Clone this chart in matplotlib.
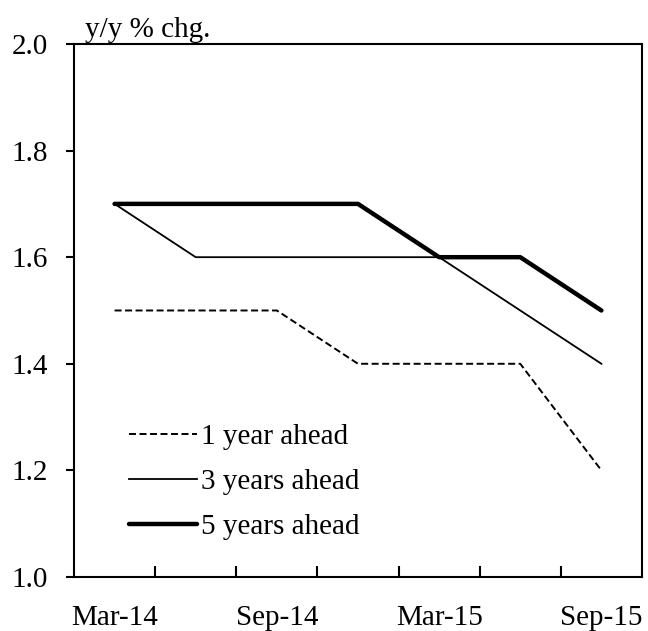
import matplotlib
matplotlib.use("Agg")
import matplotlib.pyplot as plt
import numpy as np

# survey quarters and firms' inflation outlook (y/y % chg.)
quarters = ["Mar-14", "Jun-14", "Sep-14", "Dec-14", "Mar-15", "Jun-15", "Sep-15"]
one_year = [1.5, 1.5, 1.5, 1.4, 1.4, 1.4, 1.2]
three_years = [1.7, 1.6, 1.6, 1.6, 1.6, 1.5, 1.4]
five_years = [1.7, 1.7, 1.7, 1.7, 1.6, 1.6, 1.5]
series_labels = ["1 year ahead", "3 years ahead", "5 years ahead"]
y_ticks = [1.0, 1.2, 1.4, 1.6, 1.8, 2.0]

plt.rcParams["font.family"] = ["Liberation Serif", "DejaVu Serif"]
plt.rcParams["font.size"] = 21

fig = plt.figure(figsize=(6.48, 6.31), dpi=100)
ax = fig.add_axes([0.1142, 0.0856, 0.8765, 0.8447])

n = len(quarters)
x = np.arange(n)
ax.plot(x, one_year, color="black", lw=1.4, ls=(0, (3.6, 1.8)), label=series_labels[0])
ax.plot(x, three_years, color="black", lw=1.3, label=series_labels[1])
ax.plot(x, five_years, color="black", lw=3.2, solid_capstyle="round", label=series_labels[2])

# category axis: tick marks between categories, every other label
ax.set_xlim(-0.5, n - 0.5)
ax.set_xticks(np.arange(1, n) - 0.5)
ax.set_xticklabels([])
ax.set_xticks(np.arange(0, n, 2), minor=True)
ax.set_xticklabels([quarters[i] for i in range(0, n, 2)], minor=True)
ax.tick_params(axis="x", which="major", direction="in", length=8, width=1.5)
ax.tick_params(axis="x", which="minor", length=0, pad=20)

ax.set_ylim(1.0, 2.0)
ax.set_yticks(y_ticks)
ax.set_yticklabels([f"{v:.1f}" for v in y_ticks])
ax.tick_params(axis="y", direction="out", length=6, width=1.5, pad=13)
for sp in ax.spines.values():
    sp.set_linewidth(1.5)

ax.legend(loc="lower left", bbox_to_anchor=(0.05, 0.02), frameon=False,
          handlelength=2.33, handletextpad=0.14, labelspacing=0.64)

ax.text(0.02, 1.002, "y/y % chg.", transform=ax.transAxes, ha="left", va="bottom")

fig.savefig("out.png", dpi=100)
